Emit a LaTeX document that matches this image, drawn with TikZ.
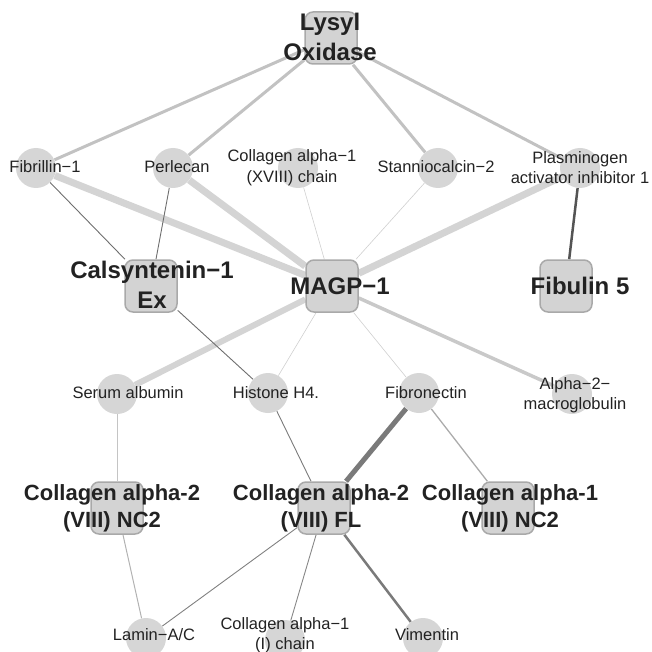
\documentclass[tikz,border=0pt]{standalone}
\usepackage{fontspec}
\setmainfont{Liberation Sans}
\usetikzlibrary{backgrounds}

\definecolor{boxfill}{HTML}{D3D3D3}
\definecolor{boxline}{HTML}{A9A9A9}
\definecolor{dotfill}{HTML}{D6D6D6}
\definecolor{labelcol}{HTML}{222222}

\tikzset{
  x=1pt, y=-1pt,
  protbox/.style={draw=boxline, line width=1.5pt, fill=boxfill, rounded corners=8pt,
    minimum width=52pt, minimum height=52pt, inner sep=0pt},
  protdot/.style={circle, fill=dotfill, minimum size=40pt, inner sep=0pt},
  biglabel/.style={text=labelcol, align=center, inner sep=0pt,
    font=\bfseries\fontsize{24}{30}\selectfont},
  collabel/.style={text=labelcol, align=center, inner sep=0pt,
    font=\bfseries\fontsize{22}{27}\selectfont},
  smalllabel/.style={text=labelcol, align=center, inner sep=0pt,
    font=\fontsize{16.5}{20.5}\selectfont},
  heavylight/.style={line width=7pt, draw=black!17},
  midlight/.style={line width=3pt, draw=black!24},
  hairlight/.style={line width=0.6pt, draw=black!19},
  thindark/.style={line width=0.9pt, draw=black!57},
}

\begin{document}
\begin{tikzpicture}
\useasboundingbox (0,0) rectangle (652,652);

% node shapes
\node[protbox] (lox)   at (331,38)  {};
\node[protdot] (fib1)  at (36,168)  {};
\node[protdot] (perl)  at (173,168) {};
\node[protdot] (col18) at (298,168) {};
\node[protdot] (stc2)  at (438,168) {};
\node[protdot] (pai1)  at (580,168) {};
\node[protbox] (cals)  at (151,286) {};
\node[protbox] (magp)  at (332,286) {};
\node[protbox] (fbln5) at (566,286) {};
\node[protdot] (alb)   at (117,394) {};
\node[protdot] (h4)    at (268,393) {};
\node[protdot] (fn1)   at (419,393) {};
\node[protdot] (a2m)   at (572,394) {};
\node[protbox] (c2nc2) at (117,508) {};
\node[protbox] (c2fl)  at (324,508) {};
\node[protbox] (c1nc2) at (508,508) {};
\node[protdot] (lmna)  at (146,638) {};
\node[protdot] (col1)  at (285,640) {};
\node[protdot] (vim)   at (423,638) {};

% interactions, drawn beneath the nodes
\begin{scope}[on background layer]
  \draw[midlight] (lox) -- (fib1);
  \draw[midlight] (lox) -- (perl);
  \draw[midlight] (lox) -- (stc2);
  \draw[midlight] (lox) -- (pai1);
  \draw[heavylight] (fib1) -- (magp);
  \draw[heavylight] (perl) -- (magp);
  \draw[heavylight] (pai1) -- (magp);
  \draw[heavylight, line width=6pt] (alb) -- (magp);
  \draw[midlight, line width=3.5pt, draw=black!21] (magp) -- (a2m);
  \draw[hairlight] (magp) -- (col18);
  \draw[hairlight] (magp) -- (stc2);
  \draw[hairlight] (magp) -- (h4);
  \draw[hairlight] (magp) -- (fn1);
  \draw[thindark] (fib1) -- (cals);
  \draw[thindark] (perl) -- (cals);
  \draw[thindark] (cals) -- (h4);
  \draw[thindark, draw=black!52] (h4) -- (c2fl);
  \draw[line width=2.5pt, draw=black!67] (pai1) -- (fbln5);
  \draw[line width=5pt, draw=black!52] (fn1) -- (c2fl);
  \draw[line width=1.3pt, draw=black!33] (fn1) -- (c1nc2);
  \draw[line width=1pt, draw=black!23] (alb) -- (c2nc2);
  \draw[line width=1pt, draw=black!30] (c2nc2) -- (lmna);
  \draw[thindark, draw=black!50] (c2fl) -- (lmna);
  \draw[thindark, draw=black!47] (c2fl) -- (col1);
  \draw[line width=2.5pt, draw=black!52] (c2fl) -- (vim);
\end{scope}

% labels
\node[biglabel] (t-lox)   at (330,37)  {Lysyl\\Oxidase};
\node[smalllabel] (t-fib1)  at (45,167)  {Fibrillin−1};
\node[smalllabel] (t-perl)  at (177,167) {Perlecan};
\node[smalllabel] (t-col18) at (292,167.5) {Collagen alpha−1\\(XVIII) chain};
\node[smalllabel] (t-stc2)  at (436,167) {Stanniocalcin−2};
\node[smalllabel] (t-pai1)  at (580,167.5) {Plasminogen\\activator inhibitor 1};
\node[biglabel] (t-cals)  at (152,285) {Calsyntenin−1\\Ex};
\node[biglabel] (t-magp)  at (340,286) {MAGP−1};
\node[biglabel] (t-fbln5) at (580,286) {Fibulin 5};
\node[smalllabel] (t-alb)   at (128,393) {Serum albumin};
\node[smalllabel] (t-h4)    at (276,393) {Histone H4.};
\node[smalllabel] (t-fn1)   at (426,393) {Fibronectin};
\node[smalllabel] (t-a2m)   at (575,395) {Alpha−2−\\macroglobulin};
\node[collabel] (t-c2nc2) at (112,508) {Collagen alpha-2\\(VIII) NC2};
\node[collabel] (t-c2fl)  at (321,508) {Collagen alpha-2\\(VIII) FL};
\node[collabel] (t-c1nc2) at (510,508) {Collagen alpha-1\\(VIII) NC2};
\node[smalllabel] (t-lmna)  at (154,635) {Lamin−A/C};
\node[smalllabel] (t-col1)  at (285,635) {Collagen alpha−1\\(I) chain};
\node[smalllabel] (t-vim)   at (427,635) {Vimentin};
\end{tikzpicture}
\end{document}
